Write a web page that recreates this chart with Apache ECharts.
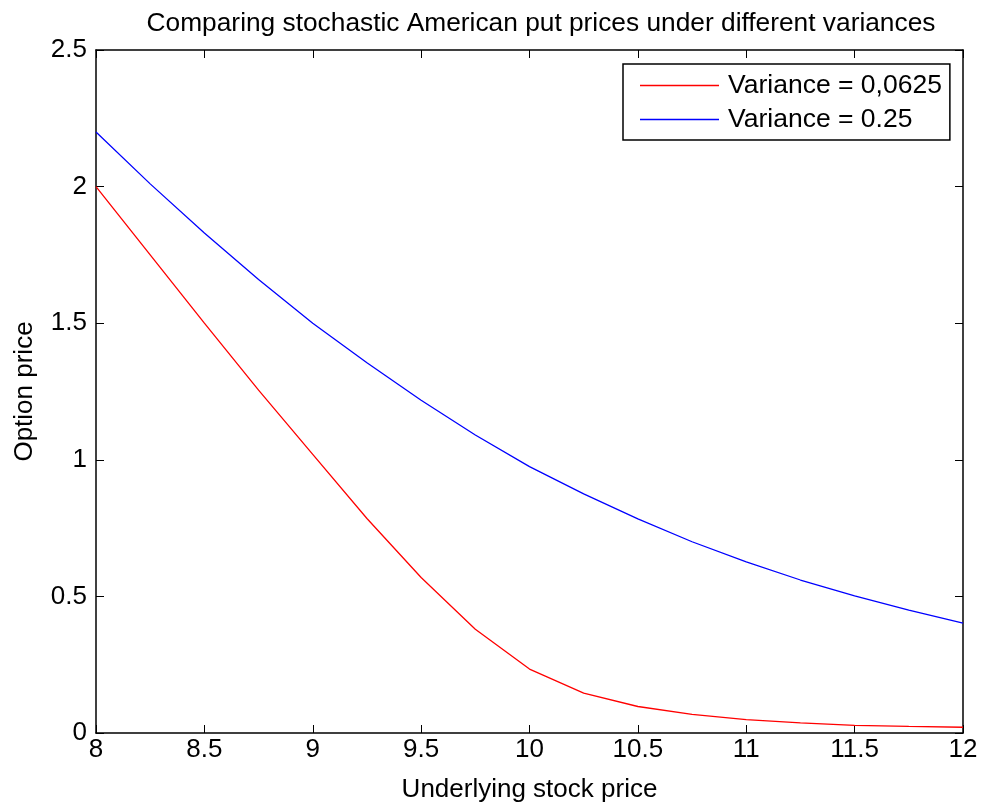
<!DOCTYPE html>
<html>
<head>
<meta charset="utf-8">
<script src="https://cdn.jsdelivr.net/npm/echarts@6/dist/echarts.min.js"></script>
<style>
  html, body { margin: 0; padding: 0; background: #fff; }
  #chart { width: 983px; height: 808px; }
</style>
</head>
<body>
<div id="chart"></div>
<script>
var stockPrices = [8, 8.25, 8.5, 8.75, 9, 9.25, 9.5, 9.75, 10, 10.25, 10.5, 10.75, 11, 11.25, 11.5, 11.75, 12];
var lowVariance = [2.0, 1.75, 1.5, 1.255, 1.02, 0.785, 0.569, 0.38, 0.234, 0.146, 0.097, 0.068, 0.049, 0.037, 0.028, 0.024, 0.021];
var highVariance = [2.2, 2.01, 1.83, 1.66, 1.50, 1.355, 1.218, 1.091, 0.975, 0.875, 0.784, 0.70, 0.626, 0.56, 0.502, 0.45, 0.402];
var seriesNames = ['Variance = 0,0625', 'Variance = 0.25'];
var titleText = 'Comparing stochastic American put prices under different variances';
var xName = 'Underlying stock price';
var yName = 'Option price';

function pairs(xs, ys) { return xs.map(function (x, i) { return [x, ys[i]]; }); }

var FONT = '"Liberation Sans", Arial, sans-serif';
var chart = echarts.init(document.getElementById('chart'), null, { renderer: 'canvas' });

var axisCommon = {
  axisLine: { show: true, onZero: false, lineStyle: { color: '#000', width: 1.5 } },
  axisTick: { show: true, inside: true, length: 8, lineStyle: { color: '#000', width: 1 } },
  splitLine: { show: false }
};

chart.setOption({
  animation: false,
  backgroundColor: '#fff',
  title: {
    text: titleText,
    left: 536, top: 6, textAlign: 'center',
    textStyle: { fontFamily: FONT, fontSize: 26.3, fontWeight: 'normal', color: '#000' }
  },
  grid: { left: 96, right: 20, top: 50, bottom: 73, containLabel: false },
  legend: {
    orient: 'vertical',
    left: 623, top: 64,
    data: seriesNames.map(function (n) { return { name: n, icon: 'rect' }; }),
    itemWidth: 79, itemHeight: 1.5, itemGap: 7,
    padding: [8, 8, 7, 17],
    borderColor: '#000', borderWidth: 1.5, backgroundColor: '#fff',
    textStyle: { fontFamily: FONT, fontSize: 26.5, color: '#000', lineHeight: 26, padding: [0, 0, 0, 4] }
  },
  xAxis: [
    Object.assign({
      type: 'value', min: 8, max: 12, interval: 0.5, position: 'bottom',
      name: xName, nameLocation: 'middle', nameGap: 44,
      nameTextStyle: { fontFamily: FONT, fontSize: 26, color: '#000' },
      axisLabel: { fontFamily: FONT, fontSize: 26, color: '#000', margin: 4 }
    }, axisCommon),
    Object.assign({
      type: 'value', min: 8, max: 12, interval: 0.5, position: 'top',
      axisLabel: { show: false }
    }, axisCommon)
  ],
  yAxis: [
    Object.assign({
      type: 'value', min: 0, max: 2.5, interval: 0.5, position: 'left',
      name: yName, nameLocation: 'middle', nameGap: 58, nameRotate: 90,
      nameTextStyle: { fontFamily: FONT, fontSize: 26, color: '#000' },
      axisLabel: { fontFamily: FONT, fontSize: 26, color: '#000', margin: 9 }
    }, axisCommon),
    Object.assign({
      type: 'value', min: 0, max: 2.5, interval: 0.5, position: 'right',
      axisLabel: { show: false }
    }, axisCommon)
  ],
  series: [
    {
      name: seriesNames[0], type: 'line', data: pairs(stockPrices, lowVariance),
      showSymbol: false, symbol: 'none', color: '#ff0000',
      lineStyle: { color: '#ff0000', width: 1.3 }, itemStyle: { color: '#ff0000' }
    },
    {
      name: seriesNames[1], type: 'line', data: pairs(stockPrices, highVariance),
      showSymbol: false, symbol: 'none', color: '#0000ff',
      lineStyle: { color: '#0000ff', width: 1.3 }, itemStyle: { color: '#0000ff' }
    }
  ]
});
</script>
</body>
</html>
